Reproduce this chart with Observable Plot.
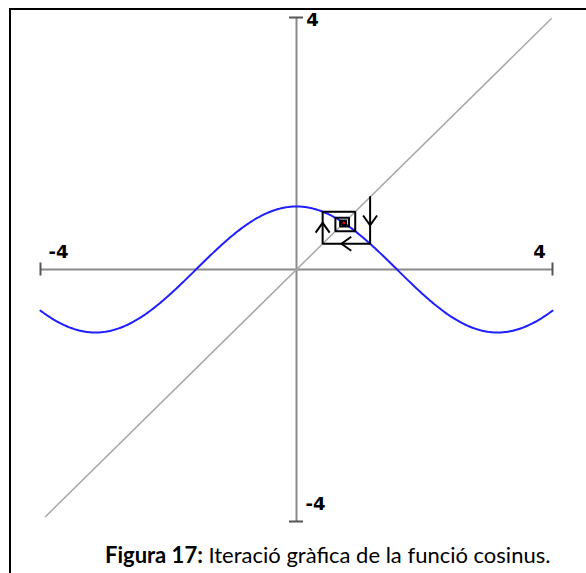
<!DOCTYPE html>
<html>
<head>
<meta charset="utf-8">
<script src="https://cdn.jsdelivr.net/npm/d3@7"></script>
<script src="https://cdn.jsdelivr.net/npm/@observablehq/plot@0.6"></script>
<style>
  html, body { margin: 0; padding: 0; background: #fff; width: 586px; height: 573px; overflow: hidden; }
  #frame { position: absolute; left: 9px; top: 8px; width: 700px; height: 700px;
           border-left: 2px solid #000; border-top: 2px solid #000; }
  #chart { position: absolute; left: 0; top: 0; }
  #caption { position: absolute; left: 105px; top: 541px; white-space: nowrap;
             font-family: Lato, "Open Sans", sans-serif; font-size: 22px; color: #000; }
  #caption b { font-weight: 700; }
</style>
</head>
<body>
<div id="frame"></div>
<div id="chart"></div>
<div id="caption"><b>Figura 17:</b> Iteració gràfica de la funció cosinus.</div>
<script>
// Window of the plane shown
const xDomain = [-4, 4];
const yDomain = [-4, 4];
// Ends of the identity line y = x
const diagonalExtent = [-3.92, 3.98];
// Starting point of the fixed-point iteration x -> cos(x)
const startValue = 1.15;
const iterationCount = 40;
// Axis end labels, with their offsets from the axis ends
const tickLabels = [
  {x: -4, y: 0, label: "-4", dx: 18, dy: -17},
  {x: 4, y: 0, label: "4", dx: -13, dy: -17},
  {x: 0, y: 4, label: "4", dx: 16, dy: 3},
  {x: 0, y: -4, label: "-4", dx: 19, dy: -17}
];

// Graph of cos(x) over the window
const curve = d3.range(xDomain[0], xDomain[1] + 1e-9, 0.02).map(x => ({x, y: Math.cos(x)}));

// Cobweb path: (x, x) -> (x, cos x) -> (cos x, cos x) -> ...
const cobweb = [{x: startValue, y: startValue}];
let v = startValue;
for (let i = 0; i < iterationCount; i++) {
  const c = Math.cos(v);
  cobweb.push({x: v, y: c});
  cobweb.push({x: c, y: c});
  v = c;
}
const fixedPoint = [{x: v, y: v}];

// Arrowheads at the middle of the first three cobweb segments
const arrows = [0, 1, 2].map(i => {
  const a = cobweb[i], b = cobweb[i + 1];
  const dx = b.x - a.x, dy = b.y - a.y;
  // screen rotation: 0 = up, 180 = down, -90 = left, 90 = right
  const rotate = Math.abs(dy) > Math.abs(dx) ? (dy > 0 ? 0 : 180) : (dx > 0 ? 90 : -90);
  return {x: (a.x + b.x) / 2, y: (a.y + b.y) / 2, rotate};
});

// Open chevron symbol pointing up
const chevron = {
  draw(context, size) {
    const r = Math.sqrt(size / Math.PI);
    context.moveTo(-r, r * 0.7);
    context.lineTo(0, -r * 0.7);
    context.lineTo(r, r * 0.7);
  }
};

const width = 586, height = 530;
const marginLeft = 40, marginRight = 34, marginTop = 17, marginBottom = 9;
const pxX = (width - marginLeft - marginRight) / (xDomain[1] - xDomain[0]);
const pxY = (height - marginTop - marginBottom) / (yDomain[1] - yDomain[0]);
const halfTickX = 6.5 / pxY; // half length of x-axis end ticks, in y units
const halfTickY = 7 / pxX;   // half length of y-axis end ticks, in x units

const plot = Plot.plot({
  width, height, marginLeft, marginRight, marginTop, marginBottom,
  x: {domain: xDomain, axis: null},
  y: {domain: yDomain, axis: null},
  style: {background: "transparent", overflow: "visible"},
  marks: [
    // axes
    Plot.ruleY([0], {x1: xDomain[0], x2: xDomain[1], stroke: "#8a8a8a", strokeWidth: 2}),
    Plot.ruleX([0], {y1: yDomain[0], y2: yDomain[1], stroke: "#8a8a8a", strokeWidth: 2}),
    Plot.ruleX(xDomain, {y1: -halfTickX, y2: halfTickX, stroke: "#555", strokeWidth: 2}),
    Plot.ruleY(yDomain, {x1: -halfTickY, x2: halfTickY, stroke: "#555", strokeWidth: 2}),
    // identity line
    Plot.line(diagonalExtent.map(t => ({x: t, y: t})), {x: "x", y: "y", stroke: "#a8a8a8", strokeWidth: 1.5}),
    // cosine
    Plot.line(curve, {x: "x", y: "y", stroke: "#1f1fff", strokeWidth: 2}),
    // iteration
    Plot.line(cobweb, {x: "x", y: "y", stroke: "#000", strokeWidth: 2, strokeLinejoin: "miter"}),
    Plot.dot(arrows, {x: "x", y: "y", rotate: "rotate", symbol: chevron, r: 7, fill: "none", stroke: "#000", strokeWidth: 2}),
    Plot.dot(fixedPoint, {x: "x", y: "y", r: 1.3, fill: "#ff0000", stroke: "none"}),
    // labels
    ...tickLabels.map(t => Plot.text([t], {
      x: "x", y: "y", text: "label", dx: t.dx, dy: t.dy,
      fontFamily: "DejaVu Sans", fontWeight: "bold", fontSize: 18, fill: "#000"
    }))
  ]
});
document.getElementById("chart").appendChild(plot);
</script>
</body>
</html>
